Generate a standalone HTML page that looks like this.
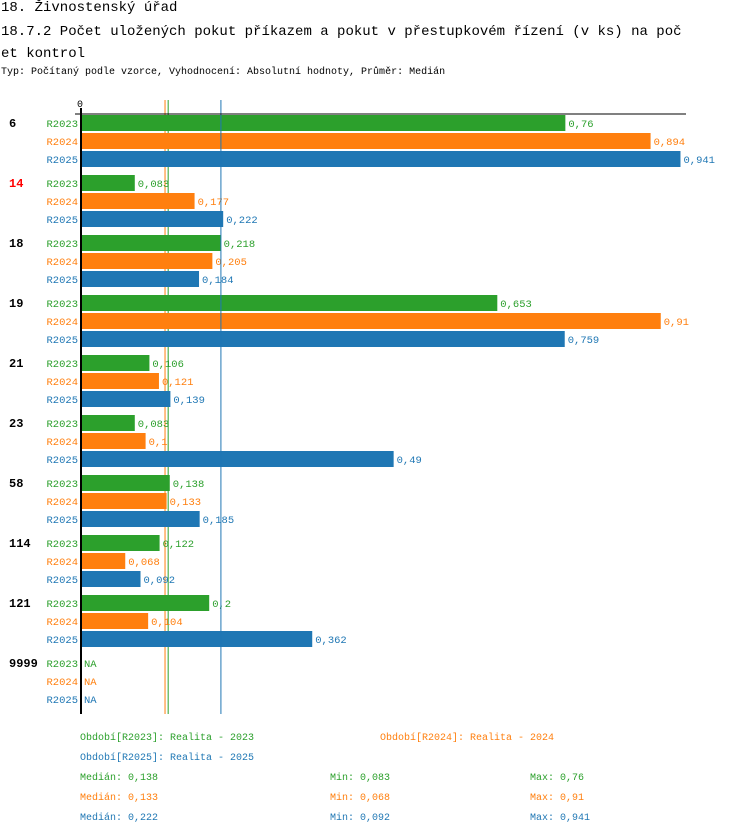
<!DOCTYPE html>
<html><head><meta charset="utf-8"><style>
body{margin:0;background:#fff;width:750px;height:834px;overflow:hidden;font-family:"Liberation Mono","DejaVu Sans Mono",monospace;}
.t{position:absolute;white-space:nowrap;}
</style></head><body>
<div class="t" style="left:1px;top:0px;font-size:14px;">18. Živnostenský úřad</div>
<div class="t" style="left:1px;top:21px;font-size:14px;line-height:22px;">18.7.2 Počet uložených pokut příkazem a pokut v přestupkovém řízení (v ks) na poč<br>et kontrol</div>
<div class="t" style="left:1px;top:67px;font-size:10px;">Typ: Počítaný podle vzorce, Vyhodnocení: Absolutní hodnoty, Průměr: Medián</div>
<svg id="chart" width="750" height="834" style="position:absolute;left:0;top:0" font-family="Liberation Mono, DejaVu Sans Mono, monospace" font-size="11"></svg>
<script>
const categories=["6","14","18","19","21","23","58","114","121","9999"];
const highlighted=["14"];
const seriesNames=["R2023","R2024","R2025"];
const r2023=[0.76,0.083,0.218,0.653,0.106,0.083,0.138,0.122,0.2,null];
const r2024=[0.894,0.177,0.205,0.91,0.121,0.1,0.133,0.068,0.104,null];
const r2025=[0.941,0.222,0.184,0.759,0.139,0.49,0.185,0.092,0.362,null];
const medians=[0.138,0.133,0.222];
const mins=[0.083,0.068,0.092];
const maxs=[0.76,0.91,0.941];
const periodLabels=["Realita - 2023","Realita - 2024","Realita - 2025"];
const colors=["#2ca02c","#ff7f0e","#1f77b4"];
const series=[r2023,r2024,r2025];
const x0=82,scale=636,top0=115,grpH=60,rowH=18,barH=16;
const X=v=>x0+v*scale;
const MX=v=>x0+v*628;
const svg=document.getElementById('chart');
const NS="http://www.w3.org/2000/svg";
function mk(tag,attrs,txt){const e=document.createElementNS(NS,tag);for(const k in attrs)e.setAttribute(k,attrs[k]);if(txt!=null)e.textContent=txt;svg.appendChild(e);return e;}
const fmt=v=>String(v).replace('.',',');
const bottom=top0+categories.length*grpH-1;
function medianLine(j){
  const ml=mk('line',{x1:MX(medians[j])-0.5,x2:MX(medians[j])-0.5,y1:100,y2:bottom,stroke:colors[j],'stroke-width':1});
  
  
}
medianLine(1);medianLine(0);
categories.forEach((c,i)=>{
  const gy=top0+i*grpH;
  const l=mk('text',{x:9,y:gy+12,'font-weight':'bold','font-size':12,fill:highlighted.includes(c)?'#ff0000':'#000'},c);
  
  
  series.forEach((s,j)=>{
    const y=gy+j*rowH;
    const sl=mk('text',{x:78,y:y+12,'text-anchor':'end',fill:colors[j],'font-size':10.5},seriesNames[j]);
    
    
    const v=s[i];
    if(v==null){
      const na=mk('text',{x:84,y:y+12,fill:colors[j],'font-size':10.5},'NA');
      
      
      return;
    }
    const b=mk('rect',{x:x0,y:y,width:X(v)-x0,height:barH,fill:colors[j]});
    
    
    const vl=mk('text',{x:X(v)+3,y:y+12,fill:colors[j],'font-size':10.5},fmt(v));
    
    
  });
});
medianLine(2);
const ax=mk('line',{x1:81,x2:81,y1:108,y2:bottom,stroke:'#000','stroke-width':2});


const tx=mk('line',{x1:75,x2:686,y1:114,y2:114,stroke:'#000','stroke-width':1});


const z=mk('text',{x:80,y:107,'text-anchor':'middle','font-size':10},'0');


const legPos=[[80,740],[380,740],[80,760]];
series.forEach((s,j)=>{
  const t=mk('text',{x:legPos[j][0],y:legPos[j][1],fill:colors[j],'font-size':10},'Období['+seriesNames[j]+']: '+periodLabels[j]);
  
  
  const y=780+j*20;
  const a=mk('text',{x:80,y:y,fill:colors[j],'font-size':10},'Medián: '+fmt(medians[j]));
  
  
  const b=mk('text',{x:330,y:y,fill:colors[j],'font-size':10},'Min: '+fmt(mins[j]));
  
  
  const d=mk('text',{x:530,y:y,fill:colors[j],'font-size':10},'Max: '+fmt(maxs[j]));
  
  
});
</script>
</body></html>
